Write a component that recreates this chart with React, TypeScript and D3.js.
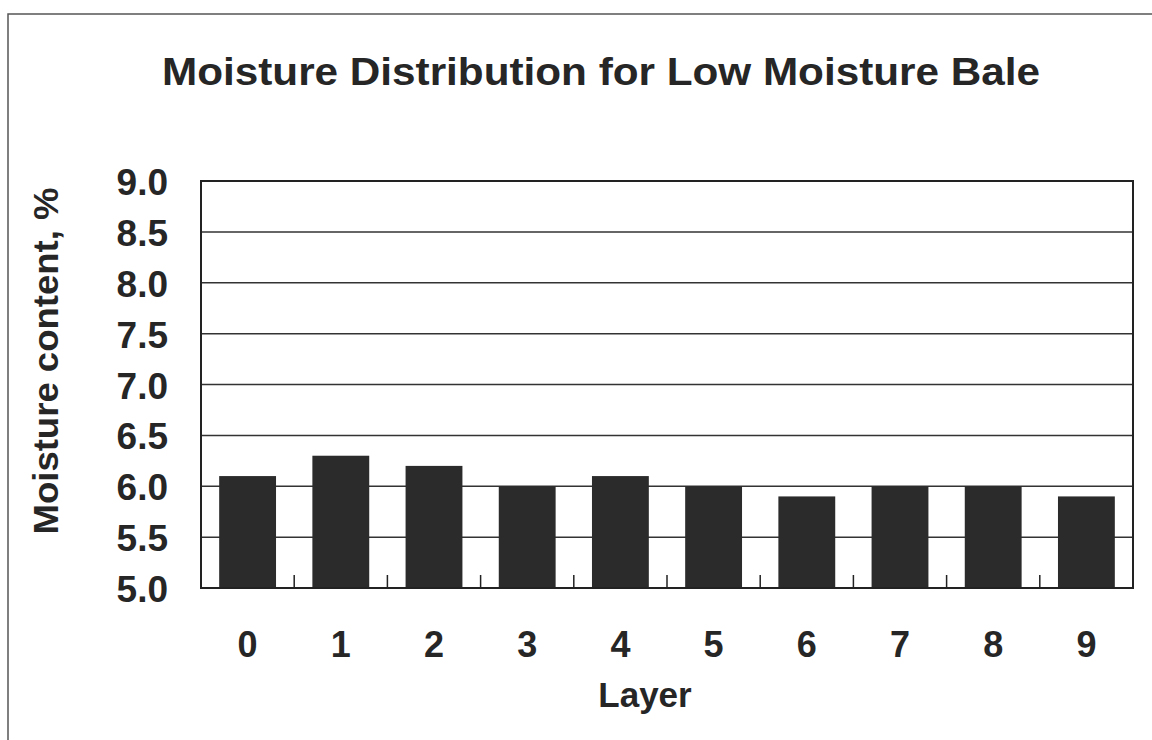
import React from "react";
import * as d3 from "d3";

const title = "Moisture Distribution for Low Moisture Bale";
const xTitle = "Layer";
const yTitle = "Moisture content, %";
const layers = ["0", "1", "2", "3", "4", "5", "6", "7", "8", "9"];
const moisture = [6.1, 6.3, 6.2, 6.0, 6.1, 6.0, 5.9, 6.0, 6.0, 5.9];
const yTicks = [5.0, 5.5, 6.0, 6.5, 7.0, 7.5, 8.0, 8.5, 9.0];

const W = 1152;
const H = 740;
const plot = { left: 201, top: 181, right: 1133, bottom: 588 };
const font = "'Liberation Sans', Arial, Helvetica, sans-serif";
const ink = "#262626";

export default function App() {
  const x = d3
    .scaleBand<string>()
    .domain(layers)
    .range([plot.left, plot.right])
    .paddingInner(0.39)
    .paddingOuter(0.195);
  const band = d3.scaleBand<string>().domain(layers).range([plot.left, plot.right]);
  const y = d3.scaleLinear().domain([5, 9]).range([plot.bottom, plot.top]);

  return (
    <svg
      width={W}
      height={H}
      style={{ position: "absolute", left: 0, top: 0, background: "#fff" }}
      fontFamily={font}
    >
      {/* outer frame */}
      <rect x={8} y={14} width={W + 20} height={H + 20} fill="none" stroke="#555" strokeWidth={1.5} />

      {/* title */}
      <text
        x={601}
        y={85}
        textAnchor="middle"
        fontSize={38}
        fontWeight="bold"
        fill={ink}
        textLength={878}
        lengthAdjust="spacingAndGlyphs"
      >
        {title}
      </text>

      {/* gridlines */}
      {yTicks.map((t) => (
        <line
          key={"g" + t}
          x1={plot.left}
          x2={plot.right}
          y1={y(t)}
          y2={y(t)}
          stroke="#333"
          strokeWidth={1.5}
        />
      ))}

      {/* bars */}
      {layers.map((l, i) => (
        <rect
          key={"b" + l}
          x={x(l)}
          y={y(moisture[i])}
          width={x.bandwidth()}
          height={y(5) - y(moisture[i])}
          fill="#2b2b2b"
        />
      ))}

      {/* category separator ticks */}
      {layers.slice(1).map((l) => (
        <line
          key={"t" + l}
          x1={band(l)}
          x2={band(l)}
          y1={plot.bottom}
          y2={plot.bottom - 13}
          stroke="#222"
          strokeWidth={1.5}
        />
      ))}

      {/* plot border */}
      <rect
        x={plot.left}
        y={plot.top}
        width={plot.right - plot.left}
        height={plot.bottom - plot.top}
        fill="none"
        stroke="#222"
        strokeWidth={2}
      />

      {/* y tick labels */}
      {yTicks.map((t) => (
        <text
          key={"yl" + t}
          x={168}
          y={y(t) + 14}
          textAnchor="end"
          fontSize={37}
          fontWeight="bold"
          fill={ink}
        >
          {d3.format(".1f")(t)}
        </text>
      ))}

      {/* x tick labels */}
      {layers.map((l) => (
        <text
          key={"xl" + l}
          x={(band(l) as number) + band.bandwidth() / 2}
          y={657}
          textAnchor="middle"
          fontSize={36}
          fontWeight="bold"
          fill={ink}
        >
          {l}
        </text>
      ))}

      {/* axis titles */}
      <text x={645} y={707} textAnchor="middle" fontSize={35} fontWeight="bold" fill={ink}>
        {xTitle}
      </text>
      <text
        transform={`translate(58, 361) rotate(-90)`}
        textAnchor="middle"
        fontSize={35}
        fontWeight="bold"
        fill={ink}
        textLength={347}
        lengthAdjust="spacingAndGlyphs"
      >
        {yTitle}
      </text>
    </svg>
  );
}
